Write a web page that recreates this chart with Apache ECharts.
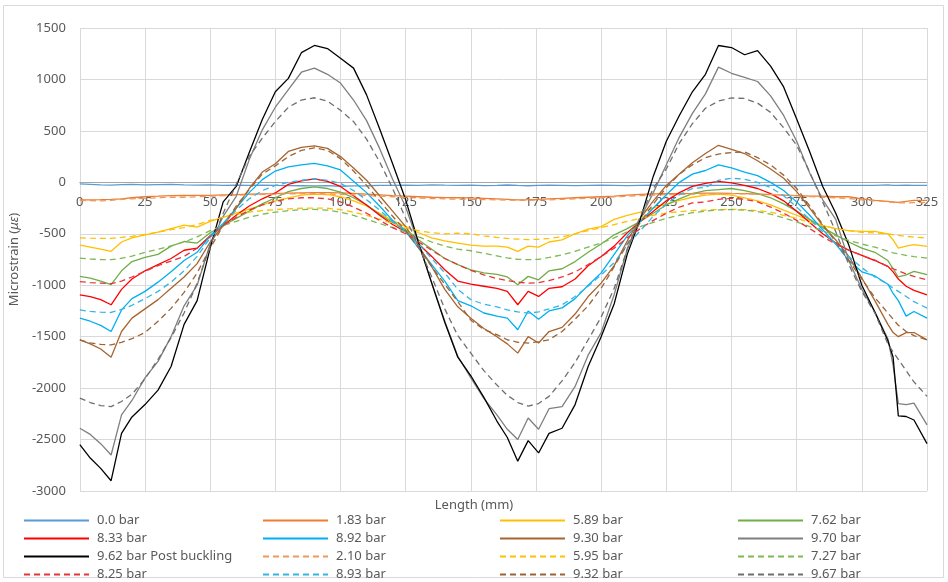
<!DOCTYPE html>
<html>
<head>
<meta charset="utf-8">
<script src="https://cdn.jsdelivr.net/npm/echarts@6/dist/echarts.min.js"></script>
<style>html,body{margin:0;padding:0;background:#fff;}#c{width:948px;height:582px;}</style>
</head>
<body>
<div id="c"></div>
<script>
// Length positions (mm)
const lengthMm = [0,4,8,12,16,20,25,30,35,40,45,50,55,60,65,70,75,80,85,90,95,100,105,110,115,120,125,130,135,140,145,150,155,160,164,168,172,176,180,185,190,195,200,205,210,215,220,225,230,235,240,245,250,255,260,265,270,275,280,285,290,295,300,305,310,312,314,317,320,325];

const xTicks = [0,25,50,75,100,125,150,175,200,225,250,275,300,325];
const yTicks = [-3000,-2500,-2000,-1500,-1000,-500,0,500,1000,1500];

const s0_0 = [-15,-20,-25,-28,-22,-20,-25,-22,-20,-25,-28,-25,-30,-28,-30,-28,-30,-32,-33,-35,-32,-38,-35,-33,-30,-30,-28,-30,-25,-28,-30,-28,-32,-30,-26,-30,-33,-30,-28,-30,-32,-30,-28,-30,-32,-30,-28,-30,-32,-30,-31,-30,-30,-32,-31,-30,-30,-31,-30,-30,-30,-29,-30,-30,-25,-30,-30,-28,-30,-30];
const s1_83 = [-170,-170,-168,-165,-160,-150,-138,-135,-130,-128,-126,-126,-122,-120,-115,-112,-110,-105,-102,-100,-100,-102,-108,-115,-122,-130,-135,-140,-145,-148,-150,-152,-155,-160,-165,-170,-168,-165,-160,-155,-150,-145,-140,-135,-125,-118,-112,-110,-110,-108,-105,-105,-108,-110,-115,-120,-125,-130,-135,-135,-140,-140,-160,-175,-185,-190,-195,-185,-175,-175];
const s5_89 = [-610,-630,-650,-670,-580,-540,-510,-485,-450,-415,-435,-380,-340,-300,-260,-220,-180,-150,-125,-115,-120,-140,-180,-230,-300,-370,-430,-490,-540,-570,-590,-610,-620,-620,-630,-671,-620,-630,-580,-560,-500,-455,-430,-360,-320,-290,-250,-210,-175,-145,-125,-115,-125,-150,-180,-220,-270,-320,-370,-420,-450,-470,-477,-477,-500,-560,-640,-620,-606,-622];
const s7_62 = [-914,-930,-960,-995,-860,-770,-730,-700,-620,-575,-590,-490,-420,-350,-280,-210,-150,-90,-60,-45,-60,-95,-150,-220,-310,-390,-460,-560,-650,-740,-800,-850,-880,-895,-920,-995,-914,-947,-860,-840,-770,-680,-600,-510,-450,-380,-300,-220,-160,-110,-80,-70,-60,-80,-110,-150,-210,-280,-360,-440,-510,-580,-640,-680,-760,-840,-920,-900,-866,-898];
const s8_33 = [-1093,-1110,-1140,-1190,-1040,-940,-860,-800,-740,-660,-640,-520,-420,-320,-230,-160,-103,-20,15,33,10,-40,-130,-220,-320,-410,-480,-600,-720,-850,-960,-990,-1010,-1030,-1060,-1190,-1060,-1109,-1030,-1015,-940,-810,-720,-620,-490,-380,-280,-180,-100,-40,-10,10,-5,-30,-60,-110,-180,-280,-390,-500,-590,-660,-710,-760,-817,-870,-940,-1010,-1050,-1093];
const s8_92 = [-1320,-1350,-1390,-1450,-1240,-1130,-1060,-970,-870,-760,-680,-520,-400,-250,-100,26,110,150,170,185,160,120,10,-100,-230,-370,-480,-640,-800,-960,-1150,-1200,-1270,-1300,-1320,-1433,-1250,-1330,-1250,-1220,-1130,-1000,-880,-700,-520,-380,-250,-120,0,80,115,170,140,100,65,0,-80,-190,-320,-460,-600,-760,-870,-910,-990,-1080,-1150,-1300,-1255,-1320];
const s9_30 = [-1531,-1570,-1620,-1700,-1450,-1320,-1230,-1140,-1030,-920,-790,-580,-420,-250,-60,100,180,300,340,355,330,250,140,20,-130,-280,-430,-620,-820,-1040,-1210,-1320,-1420,-1500,-1570,-1660,-1500,-1562,-1450,-1410,-1280,-1110,-980,-810,-570,-350,-180,-30,80,190,280,360,320,280,210,130,40,-90,-250,-420,-560,-720,-930,-1150,-1380,-1460,-1500,-1460,-1460,-1531];
const s9_70 = [-2390,-2450,-2540,-2650,-2260,-2120,-1900,-1740,-1500,-1200,-1000,-600,-330,-136,221,510,730,900,1070,1110,1050,965,800,600,330,30,-240,-600,-980,-1350,-1690,-1900,-2100,-2260,-2400,-2500,-2290,-2400,-2200,-2180,-1984,-1680,-1460,-1090,-650,-350,-100,170,440,670,860,1120,1060,1020,980,840,650,400,90,-170,-360,-760,-1040,-1260,-1520,-1780,-2150,-2160,-2146,-2357];
const s9_62pb = [-2550,-2680,-2780,-2900,-2440,-2280,-2160,-2020,-1790,-1380,-1150,-640,-190,-40,290,610,880,1010,1260,1330,1300,1205,1110,850,520,180,-170,-590,-980,-1360,-1700,-1880,-2090,-2320,-2480,-2710,-2510,-2630,-2440,-2390,-2160,-1790,-1500,-1180,-700,-360,60,400,650,880,1050,1330,1310,1240,1280,1130,927,615,297,-40,-300,-610,-1000,-1260,-1540,-1700,-2270,-2276,-2310,-2540];
const s2_10 = [-175,-178,-180,-175,-165,-160,-155,-150,-145,-145,-140,-135,-130,-125,-120,-118,-115,-112,-110,-110,-112,-118,-122,-128,-135,-140,-148,-152,-158,-160,-165,-165,-168,-170,-172,-175,-175,-172,-170,-165,-160,-155,-148,-140,-135,-128,-125,-120,-118,-115,-112,-110,-110,-112,-115,-118,-125,-130,-138,-145,-150,-158,-170,-180,-190,-195,-200,-200,-198,-195];
const s5_95 = [-540,-543,-545,-545,-535,-525,-505,-485,-460,-440,-410,-370,-340,-310,-290,-275,-265,-258,-252,-250,-252,-265,-290,-320,-360,-400,-440,-470,-490,-500,-495,-500,-520,-535,-545,-552,-557,-553,-545,-530,-500,-470,-440,-410,-380,-350,-320,-300,-285,-275,-270,-265,-262,-265,-275,-290,-320,-350,-390,-420,-450,-470,-485,-492,-500,-508,-515,-525,-532,-541];
const s7_27 = [-736,-745,-750,-752,-738,-718,-680,-650,-618,-580,-530,-470,-420,-380,-340,-310,-290,-275,-265,-262,-270,-290,-320,-360,-400,-440,-480,-530,-580,-620,-650,-665,-690,-715,-735,-748,-752,-748,-730,-705,-670,-630,-590,-540,-480,-430,-390,-350,-320,-295,-280,-268,-265,-270,-285,-310,-345,-385,-430,-470,-520,-565,-600,-630,-670,-685,-695,-710,-722,-736];
const s8_25 = [-965,-975,-980,-985,-960,-920,-865,-810,-765,-720,-640,-530,-420,-340,-270,-220,-185,-160,-150,-150,-160,-190,-240,-300,-370,-440,-500,-580,-660,-740,-800,-855,-900,-935,-955,-970,-980,-975,-955,-920,-870,-800,-720,-640,-540,-450,-370,-300,-240,-200,-190,-165,-155,-165,-190,-240,-300,-370,-450,-530,-600,-660,-710,-755,-820,-840,-860,-890,-915,-947];
const s8_93 = [-1240,-1255,-1262,-1265,-1235,-1195,-1130,-1060,-970,-860,-720,-540,-400,-270,-160,-80,-30,0,20,35,20,-10,-80,-170,-270,-380,-480,-600,-740,-880,-1040,-1140,-1185,-1210,-1240,-1260,-1271,-1260,-1230,-1190,-1110,-1010,-900,-780,-610,-470,-330,-210,-120,-60,-50,20,40,30,0,-50,-130,-240,-360,-480,-600,-720,-830,-920,-990,-1030,-1060,-1110,-1160,-1222];
const s9_32 = [-1531,-1560,-1575,-1580,-1555,-1520,-1460,-1350,-1225,-1070,-880,-640,-420,-230,-70,80,160,250,310,335,310,230,110,-30,-180,-330,-470,-640,-820,-990,-1160,-1340,-1430,-1480,-1530,-1555,-1562,-1550,-1530,-1450,-1330,-1200,-1030,-820,-600,-390,-210,-50,80,170,240,275,290,295,240,170,70,-60,-230,-410,-580,-760,-940,-1120,-1270,-1330,-1390,-1450,-1490,-1531];
const s9_67 = [-2097,-2140,-2170,-2180,-2130,-2060,-1910,-1720,-1510,-1270,-980,-620,-300,-20,253,430,590,730,800,822,790,700,590,420,200,-60,-350,-620,-920,-1230,-1490,-1660,-1830,-1970,-2070,-2140,-2175,-2150,-2080,-1930,-1750,-1530,-1310,-1030,-650,-330,-60,130,380,570,720,790,820,815,770,680,530,360,100,-190,-480,-800,-1060,-1270,-1570,-1650,-1720,-1830,-1940,-2080];

const seriesDefs = [
  {name:'0.0 bar', data:s0_0, color:'#5B9BD5', dash:false},
  {name:'1.83 bar', data:s1_83, color:'#ED7D31', dash:false},
  {name:'5.89 bar', data:s5_89, color:'#FFC000', dash:false},
  {name:'7.62 bar', data:s7_62, color:'#70AD47', dash:false},
  {name:'8.33 bar', data:s8_33, color:'#FF0000', dash:false},
  {name:'8.92 bar', data:s8_92, color:'#00B0F0', dash:false},
  {name:'9.30 bar', data:s9_30, color:'#A8642E', dash:false},
  {name:'9.70 bar', data:s9_70, color:'#7F7F7F', dash:false},
  {name:'9.62 bar Post buckling', data:s9_62pb, color:'#000000', dash:false},
  {name:'2.10 bar', data:s2_10, color:'#F0985A', dash:true},
  {name:'5.95 bar', data:s5_95, color:'#FFC000', dash:true},
  {name:'7.27 bar', data:s7_27, color:'#7DB955', dash:true},
  {name:'8.25 bar', data:s8_25, color:'#E8353A', dash:true},
  {name:'8.93 bar', data:s8_93, color:'#35B5E5', dash:true},
  {name:'9.32 bar', data:s9_32, color:'#9C6436', dash:true},
  {name:'9.67 bar', data:s9_67, color:'#6F6F6F', dash:true}
];

const legendCols = [
  ['0.0 bar','8.33 bar','9.62 bar Post buckling','8.25 bar'],
  ['1.83 bar','8.92 bar','2.10 bar','8.93 bar'],
  ['5.89 bar','9.30 bar','5.95 bar','9.32 bar'],
  ['7.62 bar','9.70 bar','7.27 bar','9.67 bar']
];
const legendLefts = [23, 262, 499, 737];

const FONT = 'Noto Sans';
const GRID = {left: 76.5, right: 21, top: 28, bottom: 91};
const PLOT_H = 582 - GRID.top - GRID.bottom;
const Y_MIN = -3000, Y_MAX = 1500;
// shift the x axis from the bottom edge up to the value 0 of the y axis
const zeroOffset = -PLOT_H * (0 - Y_MIN) / (Y_MAX - Y_MIN);

const chart = echarts.init(document.getElementById('c'), null, {renderer:'canvas'});

const option = {
  animation: false,
  backgroundColor: '#ffffff',
  textStyle: {fontFamily: FONT},
  grid: {left: GRID.left, right: GRID.right, top: GRID.top, bottom: GRID.bottom, containLabel: false},
  xAxis: [{
    type: 'value', min: 0, max: 325, interval: 25,
    position: 'bottom',
    offset: zeroOffset,
    axisLine: {onZero: false, lineStyle: {color: '#A6A6A6', width: 1}},
    axisTick: {show: false},
    axisLabel: {color: '#595959', fontSize: 13, margin: 13, fontFamily: FONT,
      formatter: v => xTicks.includes(v) ? String(v) : ''},
    splitLine: {show: true, lineStyle: {color: '#D9D9D9', width: 1}}
  }],
  yAxis: {
    type: 'value', min: Y_MIN, max: Y_MAX, interval: 500,
    name: 'Microstrain ({i|με})', nameLocation: 'middle', nameGap: 57,
    nameTextStyle: {color: '#595959', fontSize: 13, fontFamily: FONT,
      rich: {i: {fontStyle: 'italic', color: '#595959', fontSize: 13, fontFamily: FONT}}},
    axisLine: {show: false},
    axisTick: {show: false},
    axisLabel: {color: '#595959', fontSize: 13, margin: 14, fontFamily: FONT,
      formatter: v => yTicks.includes(v) ? String(v) : ''},
    splitLine: {show: true, lineStyle: {color: '#D9D9D9', width: 1}}
  },
  legend: legendCols.map((col, i) => ({
    data: col,
    orient: 'vertical',
    left: legendLefts[i],
    top: 514,
    height: 80,
    itemWidth: 65,
    itemHeight: 12,
    itemGap: 5,
    padding: 0,
    itemStyle: {opacity: 0},
    textStyle: {color: '#595959', fontSize: 13, fontFamily: FONT, padding: [0,0,0,3], lineHeight: 12}
  })),
  graphic: [
    {type: 'rect', silent: true, shape: {x: 3.5, y: 5.5, width: 940, height: 572},
      style: {fill: 'none', stroke: '#D9D9D9', lineWidth: 1}},
    {type: 'text', left: 'center', top: 499, silent: true,
      style: {text: 'Length (mm)', fill: '#595959', font: '13px "Noto Sans"'}}
  ],
  series: seriesDefs.map(d => ({
    name: d.name,
    type: 'line',
    symbol: 'none',
    showSymbol: false,
    smooth: false,
    data: lengthMm.map((x, i) => [x, d.data[i]]),
    lineStyle: {color: d.color, width: 1.3, type: d.dash ? [6, 4] : 'solid'},
    itemStyle: {color: d.color}
  }))
};
chart.setOption(option);
</script>
</body>
</html>
